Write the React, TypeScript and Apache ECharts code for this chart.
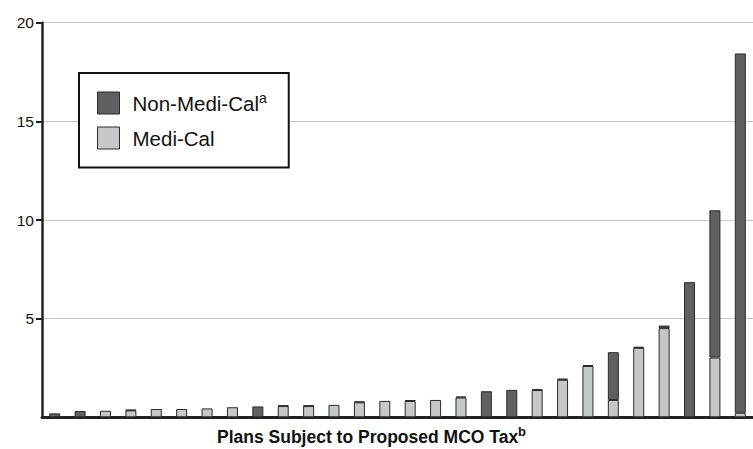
import React, { useEffect, useRef } from "react";
import * as echarts from "echarts";

const plans: string[] = Array.from({ length: 28 }, (_, i) => `Plan ${i + 1}`);

const mediCal: (number | null)[] = [
  null, null, 0.33, 0.35, 0.42, 0.42, 0.45, 0.51, null, 0.57,
  0.57, 0.63, 0.76, 0.83, 0.83, 0.88, 1.0, null, null, 1.38,
  1.9, 2.6, 0.88, 3.52, 4.52, null, 3.03, 0.23,
];

const nonMediCal: (number | null)[] = [
  0.2, 0.32, null, 0.03, null, null, null, null, 0.55, 0.03,
  0.03, null, 0.04, null, 0.04, null, 0.05, 1.32, 1.39, 0.04,
  0.06, 0.05, 2.42, 0.05, 0.13, 6.85, 7.46, 18.21,
];

const yTicks: number[] = [5, 10, 15, 20];

const DARK = "#5f6062";
const LIGHT = "#c6c7c9";
const EDGE = "#2a2a2a";
const FONT = "Liberation Sans, Arial, Helvetica, sans-serif";

export default function App() {
  const ref = useRef<HTMLDivElement>(null);

  useEffect(() => {
    if (!ref.current) return;
    const chart = echarts.init(ref.current, undefined, { renderer: "svg" });
    chart.setOption({
      animation: false,
      backgroundColor: "#ffffff",
      textStyle: { fontFamily: FONT },
      grid: { left: 42, top: 22.7, width: 718, bottom: 31.7, containLabel: false },
      title: {
        text: "{m|Plans Subject to Proposed MCO Tax}{s|b}",
        left: 217,
        top: 425,
        padding: 0,
        textStyle: {
          rich: {
            m: { fontFamily: FONT, fontSize: 17.5, fontWeight: "bold", color: "#111", lineHeight: 24 },
            s: { fontFamily: FONT, fontSize: 13, fontWeight: "bold", color: "#111", lineHeight: 10, verticalAlign: "top" },
          },
        },
      },
      legend: {
        orient: "vertical",
        left: 79,
        top: 73,
        data: ["Non-Medi-Cal", "Medi-Cal"],
        icon: "rect",
        itemWidth: 22,
        itemHeight: 22,
        itemGap: 12,
        padding: [18, 22, 18, 18],
        borderColor: "#111",
        borderWidth: 2,
        backgroundColor: "#ffffff",
        itemStyle: { borderColor: EDGE, borderWidth: 1 },
        formatter: (name: string) =>
          name === "Non-Medi-Cal" ? "{n|Non-Medi-Cal}{s|a}" : "{n|Medi-Cal}",
        textStyle: {
          padding: [0, 0, 0, 8],
          rich: {
            n: { fontFamily: FONT, fontSize: 20.5, color: "#111", lineHeight: 24 },
            s: { fontFamily: FONT, fontSize: 14, color: "#111", lineHeight: 12, verticalAlign: "top" },
          },
        },
      },
      xAxis: {
        type: "category",
        data: plans,
        axisLine: { show: true, lineStyle: { color: "#222", width: 3 } },
        axisTick: { show: false },
        axisLabel: { show: false },
        splitLine: { show: false },
      },
      yAxis: {
        type: "value",
        min: 0,
        max: 20,
        interval: 5,
        axisLine: { show: true, lineStyle: { color: "#222", width: 2.5 } },
        axisTick: { show: true, length: 6, lineStyle: { color: "#222", width: 2 }, customValues: yTicks },
        axisLabel: {
          fontFamily: FONT,
          fontSize: 15.5,
          color: "#111",
          margin: 8,
          customValues: yTicks,
        },
        splitLine: { show: true, lineStyle: { color: "#c8c8c8", width: 1 } },
      },
      series: [
        {
          name: "Medi-Cal",
          type: "bar",
          stack: "total",
          data: mediCal,
          barWidth: 11,
          itemStyle: { color: LIGHT, borderColor: EDGE, borderWidth: 1 },
        },
        {
          name: "Non-Medi-Cal",
          type: "bar",
          stack: "total",
          data: nonMediCal,
          barWidth: 11,
          itemStyle: { color: DARK, borderColor: EDGE, borderWidth: 1 },
        },
      ],
    });
    return () => chart.dispose();
  }, []);

  return (
    <div
      ref={ref}
      style={{ position: "absolute", left: 0, top: 0, width: 753, height: 449 }}
    />
  );
}
